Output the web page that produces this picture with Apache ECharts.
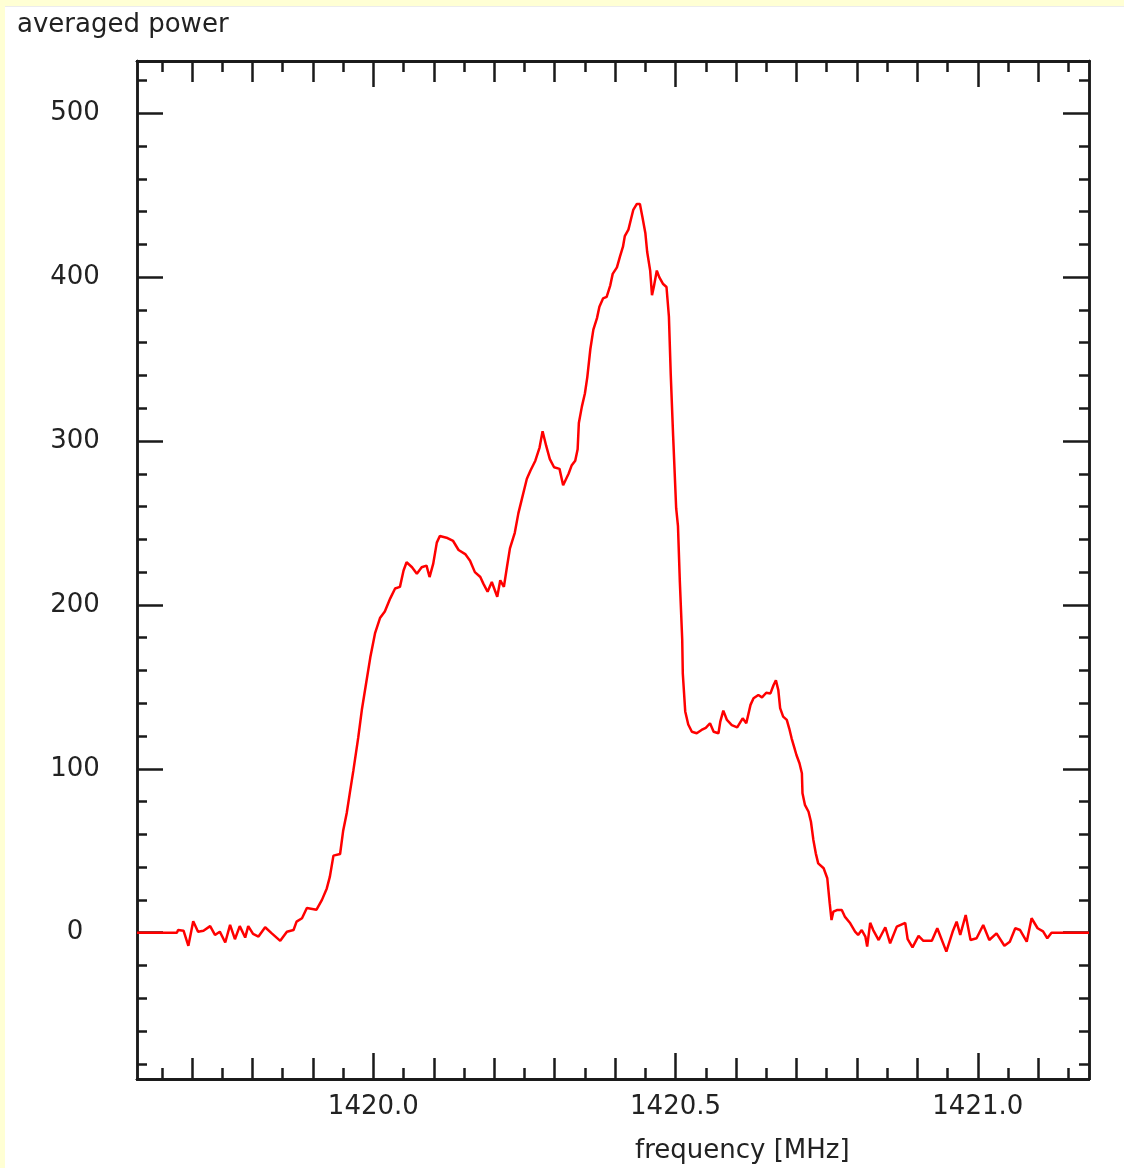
<!DOCTYPE html>
<html>
<head>
<meta charset="utf-8">
<script src="https://cdn.jsdelivr.net/npm/echarts@6/dist/echarts.min.js"></script>
<style>
html, body { margin: 0; padding: 0; background: #ffffd4; }
#main { width: 1124px; height: 1168px; }
</style>
</head>
<body>
<div id="main"></div>
<script>
// spectrum: frequency [MHz] and averaged power
var freq = [
    1419.609, 1419.675, 1419.677, 1419.686, 1419.694, 1419.702, 1419.710, 1419.719, 1419.730, 1419.738,
    1419.746, 1419.755, 1419.763, 1419.771, 1419.779, 1419.788, 1419.793, 1419.801, 1419.810, 1419.821,
    1419.832, 1419.846, 1419.857, 1419.868, 1419.873, 1419.882, 1419.890, 1419.906, 1419.915, 1419.923,
    1419.928, 1419.934, 1419.945, 1419.950, 1419.956, 1419.961, 1419.967, 1419.975, 1419.981, 1419.988,
    1419.995, 1420.003, 1420.011, 1420.019, 1420.028, 1420.036, 1420.044, 1420.050, 1420.055, 1420.064,
    1420.072, 1420.080, 1420.088, 1420.093, 1420.099, 1420.105, 1420.110, 1420.121, 1420.132, 1420.141,
    1420.152, 1420.160, 1420.168, 1420.177, 1420.182, 1420.189, 1420.196, 1420.205, 1420.210, 1420.216,
    1420.221, 1420.226, 1420.234, 1420.240, 1420.246, 1420.254, 1420.260, 1420.268, 1420.275, 1420.280,
    1420.286, 1420.292, 1420.299, 1420.308, 1420.314, 1420.323, 1420.328, 1420.334, 1420.338, 1420.340,
    1420.345, 1420.350, 1420.354, 1420.359, 1420.364, 1420.370, 1420.374, 1420.380, 1420.386, 1420.392,
    1420.396, 1420.403, 1420.408, 1420.413, 1420.416, 1420.422, 1420.426, 1420.430, 1420.436, 1420.441,
    1420.445, 1420.450, 1420.453, 1420.458, 1420.461, 1420.464, 1420.469, 1420.473, 1420.479, 1420.485,
    1420.489, 1420.492, 1420.496, 1420.501, 1420.504, 1420.507, 1420.511, 1420.512, 1420.516, 1420.521,
    1420.527, 1420.535, 1420.543, 1420.550, 1420.557, 1420.563, 1420.571, 1420.574, 1420.579, 1420.585,
    1420.593, 1420.602, 1420.611, 1420.617, 1420.620, 1420.624, 1420.629, 1420.637, 1420.643, 1420.650,
    1420.657, 1420.662, 1420.666, 1420.670, 1420.673, 1420.678, 1420.684, 1420.688, 1420.692, 1420.696,
    1420.700, 1420.705, 1420.709, 1420.710, 1420.714, 1420.720, 1420.724, 1420.728, 1420.732, 1420.736,
    1420.745, 1420.751, 1420.755, 1420.758, 1420.761, 1420.767, 1420.775, 1420.780, 1420.789, 1420.797,
    1420.802, 1420.808, 1420.814, 1420.817, 1420.822, 1420.827, 1420.836, 1420.847, 1420.855, 1420.866,
    1420.880, 1420.884, 1420.892, 1420.902, 1420.910, 1420.924, 1420.933, 1420.948, 1420.959, 1420.965,
    1420.971, 1420.980, 1420.988, 1420.998, 1421.009, 1421.019, 1421.031, 1421.044, 1421.053, 1421.062,
    1421.070, 1421.081, 1421.089, 1421.099, 1421.108, 1421.115, 1421.122, 1421.184
];
var power = [
    0, 0, 1.6, 1.2, -8, 7, 0.6, 1.2, 4, -1.4,
    0.6, -6, 4.7, -4, 4, -3, 4, -0.8, -2.4, 3.3,
    -0.4, -5, 0.6, 1.6, 6.7, 8.8, 15, 14, 20, 27,
    34, 47, 48, 62, 73, 85, 99, 119, 136, 152,
    168, 183, 192, 196, 204, 210, 211, 221, 226, 223,
    219, 223, 224, 217, 225, 238, 242, 241, 239, 233.5,
    231, 227, 220, 217, 213, 208, 214, 205, 215, 211,
    223, 234.5, 244, 256, 265, 277, 282, 288, 296, 306,
    297, 289, 284, 283, 273, 280, 285, 288, 295, 311,
    321, 329, 339, 356, 368, 375, 382, 387, 388, 395,
    402, 406, 412.5, 418.6, 425, 429, 435, 441, 444.7, 444.7,
    437, 427, 415.5, 404, 389, 394, 404, 400, 396, 394,
    376, 341, 303, 259, 248, 215, 179, 158, 135, 127,
    122.6, 121.7, 123.7, 125, 127.8, 122.6, 121.7, 128.8, 135.5, 129.8,
    126.7, 125.3, 130.8, 127.8, 126.7, 139, 143, 145, 143.6, 146.4,
    146, 151, 154, 148, 137, 131.8, 129.8, 124.7, 118.6, 113.5,
    108.4, 103.4, 97.3, 85, 78, 73.8, 67.7, 56.6, 48.4, 42.3,
    39.3, 33.2, 18, 7.7, 12.8, 13.8, 13.8, 9.8, 5.7, 0.6,
    -1.4, 1.6, -2.4, -8.5, 6, 1.6, -4.5, 3.3, -6.5, 3.7,
    6, -4, -9, -2, -5, -5, 2.7, -11.6, 1.2, 6.7,
    -1.4, 10.8, -4.5, -3.4, 4.7, -4.5, -0.4, -8, -5.5, 2.7,
    1.6, -5.5, 8.8, 2.7, 0.8, -3.4, 0, 0
];

var xRange = [1419.609, 1421.184];
var yRange = [-89.3, 531.9];
var xLabels = [1420.0, 1420.5, 1421.0];
var xTicks = [1419.7, 1419.8, 1419.9, 1420.0, 1420.1, 1420.2, 1420.3, 1420.4, 1420.5, 1420.6, 1420.7, 1420.8, 1420.9, 1421.0, 1421.1];
var xMinorTicks = [1419.65, 1419.75, 1419.85, 1419.95, 1420.05, 1420.15, 1420.25, 1420.35, 1420.45, 1420.55, 1420.65, 1420.75, 1420.85, 1420.95, 1421.05, 1421.15];
var yLabels = [0, 100, 200, 300, 400, 500];
var yMinorTicks = [-80, -60, -40, -20, 20, 40, 60, 80, 120, 140, 160, 180, 220, 240, 260, 280, 320, 340, 360, 380, 420, 440, 460, 480, 520];

var ink = '#1a1a1a';
var labelFont = 'DejaVu Sans';
var labelSize = 26;
var gridBox = {left: 137, top: 61, right: 35, bottom: 89};

function makeX(gridIndex, position, ticks, len, opts)
{
    var axis = {
        type: 'value',
        gridIndex: gridIndex,
        position: position,
        min: xRange[0],
        max: xRange[1],
        axisLine: {show: true, onZero: false, lineStyle: {color: ink, width: 2.5}},
        axisTick: {show: true, inside: true, length: len, customValues: ticks, lineStyle: {color: ink, width: 2.5}},
        axisLabel: {show: false},
        splitLine: {show: false}
    };
    return Object.assign(axis, opts || {});
}

function makeY(gridIndex, position, ticks, len, opts)
{
    var axis = {
        type: 'value',
        gridIndex: gridIndex,
        position: position,
        min: yRange[0],
        max: yRange[1],
        axisLine: {show: true, onZero: false, lineStyle: {color: ink, width: 2.5}},
        axisTick: {show: true, inside: true, length: len, customValues: ticks, lineStyle: {color: ink, width: 2.5}},
        axisLabel: {show: false},
        splitLine: {show: false}
    };
    return Object.assign(axis, opts || {});
}

var chart = echarts.init(document.getElementById('main'));
var option = {
    animation: false,
    backgroundColor: '#ffffff',
    graphic: [
        {type: 'rect', shape: {x: 0, y: 0, width: 1124, height: 6}, style: {fill: '#ffffd4'}},
        {type: 'rect', shape: {x: 0, y: 6, width: 1124, height: 1}, style: {fill: '#ececec'}},
        {type: 'rect', shape: {x: 0, y: 0, width: 5, height: 1168}, style: {fill: '#ffffd4'}}
    ],
    title: [
        {
            text: 'averaged power',
            left: 12,
            top: 7,
            textStyle: {color: '#222', fontFamily: labelFont, fontSize: labelSize, fontWeight: 'normal'}
        },
        {
            text: 'frequency [MHz]',
            left: 630,
            top: 1133,
            textStyle: {color: '#222', fontFamily: labelFont, fontSize: labelSize, fontWeight: 'normal'}
        }
    ],
    grid: [
        Object.assign({containLabel: false}, gridBox),
        Object.assign({containLabel: false}, gridBox),
        Object.assign({containLabel: false}, gridBox)
    ],
    xAxis: [
        makeX(0, 'bottom', xTicks, 21, {
            axisLabel: {
                show: true,
                customValues: xLabels,
                margin: 15,
                color: '#222',
                fontFamily: labelFont,
                fontSize: labelSize,
                formatter: function(v) { return v.toFixed(1); }
            }
        }),
        makeX(0, 'top', xTicks, 21),
        makeX(1, 'bottom', xMinorTicks, 11),
        makeX(1, 'top', xMinorTicks, 11),
        makeX(2, 'bottom', xLabels, 26),
        makeX(2, 'top', xLabels, 26)
    ],
    yAxis: [
        makeY(0, 'left', yLabels, 26, {
            axisLabel: {
                show: true,
                customValues: yLabels,
                margin: 62,
                align: 'center',
                padding: [3, 0, 0, 0],
                color: '#222',
                fontFamily: labelFont,
                fontSize: labelSize
            }
        }),
        makeY(0, 'right', yLabels, 26),
        makeY(1, 'left', yMinorTicks, 10),
        makeY(1, 'right', yMinorTicks, 10),
        makeY(2, 'left', [], 0, {show: false}),
        makeY(2, 'right', [], 0, {show: false})
    ],
    series: [
        {
            name: 'averaged power',
            type: 'line',
            xAxisIndex: 0,
            yAxisIndex: 0,
            showSymbol: false,
            clip: true,
            lineStyle: {color: '#ff0000', width: 2.5},
            itemStyle: {color: '#ff0000'},
            data: freq.map(function(f, i) { return [f, power[i]]; })
        }
    ]
};
chart.setOption(option);
</script>
</body>
</html>
